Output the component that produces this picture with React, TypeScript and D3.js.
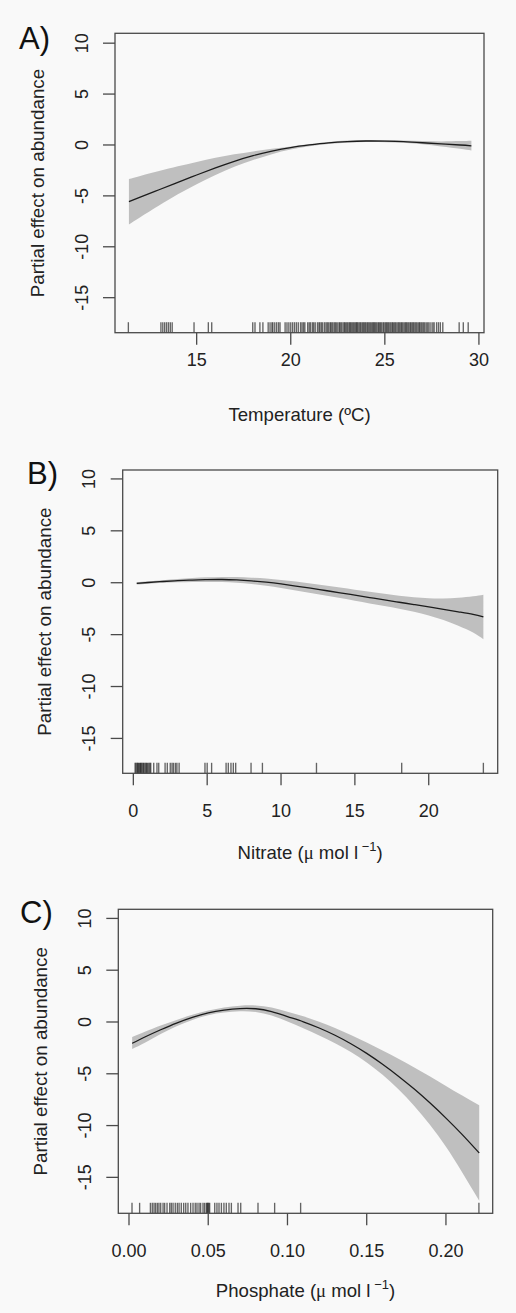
import React from "react";
import * as d3 from "d3";

// ---------- Panel A: Temperature ----------
const tempX = [11.4, 12, 13, 14, 15, 16, 17, 18, 19, 20, 21, 22, 23, 24, 25, 26, 27, 28, 29, 29.6];
const tempFit = [-5.57, -5.13, -4.4, -3.67, -2.95, -2.25, -1.6, -1.05, -0.6, -0.25, 0.0, 0.2, 0.33, 0.39, 0.38, 0.33, 0.22, 0.1, 0.0, -0.08];
const tempUpper = [-3.35, -3.05, -2.56, -2.1, -1.66, -1.26, -0.92, -0.63, -0.38, -0.14, 0.1, 0.3, 0.43, 0.49, 0.48, 0.45, 0.39, 0.35, 0.38, 0.42];
const tempLower = [-7.8, -7.1, -5.95, -4.85, -3.85, -2.95, -2.15, -1.47, -0.9, -0.45, -0.13, 0.1, 0.23, 0.29, 0.28, 0.21, 0.06, -0.14, -0.38, -0.55];
const tempRug = [
  11.37, 13.1, 13.2, 13.3, 13.4, 13.5, 13.6, 13.7, 14.86, 15.62, 15.8,
  17.98, 18.1, 18.36, 18.52, 18.8, 18.9, 19.0, 19.05, 19.15, 19.25, 19.35, 19.43,
  19.7, 19.8, 19.9, 20.0, 20.1, 20.2, 20.3, 20.4,
  20.52, 20.6, 20.68, 20.75, 20.9, 20.98, 21.05, 21.15, 21.22, 21.3, 21.42, 21.5, 21.55, 21.63, 21.7, 21.8, 21.88, 21.95,
  22.02, 22.1, 22.15, 22.22, 22.3, 22.36, 22.42, 22.5, 22.58, 22.63, 22.7, 22.78, 22.85, 22.9, 22.97,
  23.03, 23.1, 23.15, 23.2, 23.26, 23.32, 23.38, 23.45, 23.5, 23.55, 23.62, 23.68, 23.73, 23.8, 23.86, 23.92, 23.98,
  24.05, 24.1, 24.16, 24.22, 24.28, 24.35, 24.4, 24.46, 24.52, 24.58, 24.65, 24.7, 24.76, 24.82, 24.9, 24.95,
  25.02, 25.08, 25.14, 25.2, 25.27, 25.33, 25.4, 25.45, 25.52, 25.58, 25.65, 25.72, 25.78, 25.85, 25.9, 25.96,
  26.03, 26.1, 26.15, 26.22, 26.28, 26.35, 26.4, 26.47, 26.53, 26.6, 26.66, 26.72, 26.8, 26.85, 26.92, 26.98,
  27.05, 27.12, 27.2, 27.28, 27.35, 27.45, 27.55, 27.62, 27.75, 27.85, 27.95, 28.08, 28.95, 29.17, 29.43,
];
const tempTicks = [15, 20, 25, 30];

// ---------- Panel B: Nitrate ----------
const nitX = [0.23, 1, 2, 3, 4, 5, 6, 7, 8, 9, 10, 11, 12, 13, 14, 15, 16, 17, 18, 19, 20, 21, 22, 23, 23.7];
const nitFit = [-0.06, 0.02, 0.12, 0.2, 0.26, 0.3, 0.31, 0.27, 0.18, 0.05, -0.12, -0.32, -0.53, -0.75, -0.97, -1.2, -1.43, -1.66, -1.88, -2.1, -2.33, -2.56, -2.8, -3.05, -3.3];
const nitUpper = [0.06, 0.14, 0.25, 0.36, 0.45, 0.52, 0.56, 0.55, 0.49, 0.4, 0.27, 0.11, -0.07, -0.26, -0.46, -0.67, -0.87, -1.07, -1.25, -1.4, -1.5, -1.52, -1.45, -1.3, -1.15];
const nitLower = [-0.18, -0.1, -0.01, 0.04, 0.07, 0.08, 0.06, -0.01, -0.13, -0.3, -0.51, -0.75, -0.99, -1.24, -1.48, -1.73, -1.99, -2.25, -2.51, -2.8, -3.16, -3.6, -4.15, -4.8, -5.45];
const nitRug = [
  0.12, 0.18, 0.25, 0.3, 0.35, 0.42, 0.48, 0.52, 0.58, 0.65, 0.7, 0.78, 0.85, 0.9, 0.97, 1.05, 1.12, 1.18,
  1.38, 1.6, 1.72, 2.15, 2.3, 2.5, 2.62, 2.72, 2.85, 2.95, 3.1, 4.85, 5.0, 5.3,
  6.28, 6.43, 6.61, 6.77, 6.93, 7.97, 8.74, 12.4, 18.17, 23.7,
];
const nitTicks = [0, 5, 10, 15, 20];

// ---------- Panel C: Phosphate ----------
const phoX = [0.002, 0.01, 0.02, 0.03, 0.04, 0.05, 0.06, 0.07, 0.08, 0.09, 0.1, 0.11, 0.12, 0.13, 0.14, 0.15, 0.16, 0.17, 0.18, 0.19, 0.2, 0.21, 0.221];
const phoFit = [-2.06, -1.45, -0.75, -0.1, 0.45, 0.88, 1.15, 1.3, 1.28, 1.0, 0.52, 0.02, -0.58, -1.28, -2.1, -3.03, -4.08, -5.23, -6.48, -7.83, -9.28, -10.83, -12.65];
const phoUpper = [-1.45, -0.95, -0.35, 0.2, 0.7, 1.1, 1.4, 1.58, 1.6, 1.4, 1.0, 0.55, 0.02, -0.58, -1.25, -1.98, -2.75, -3.55, -4.4, -5.27, -6.17, -7.08, -8.05];
const phoLower = [-2.6, -2.0, -1.15, -0.4, 0.2, 0.66, 0.92, 1.03, 0.96, 0.62, 0.05, -0.6, -1.3, -2.05, -2.9, -3.9, -5.1, -6.5, -8.1, -9.95, -12.05, -14.45, -17.26];
const phoRug = [
  0.0019, 0.0067, 0.0135, 0.0147, 0.0158, 0.0168, 0.0179, 0.0189, 0.02, 0.0215, 0.0225, 0.024, 0.0257, 0.0267,
  0.0278, 0.0292, 0.0305, 0.0316, 0.033, 0.0345, 0.0358, 0.0372, 0.0389, 0.0404, 0.0418, 0.0429, 0.0442,
  0.0452, 0.0467, 0.0477, 0.0488, 0.0494, 0.0498, 0.0503, 0.0509, 0.0541, 0.0555, 0.0568, 0.0583, 0.0599,
  0.0614, 0.0631, 0.0646, 0.0688, 0.0705, 0.0814, 0.0919, 0.1083, 0.2208,
];
const phoTicks = [0, 0.05, 0.1, 0.15, 0.2];

const yTicks = [10, 5, 0, -5, -10, -15];

type Panel = {
  letter: string;
  box: [number, number, number, number]; // left, top, right, bottom
  xDomain: [number, number];
  yDomain: [number, number];
  xs: number[];
  fit: number[];
  upper: number[];
  lower: number[];
  rug: number[];
  xTicks: number[];
  fmt: (v: number) => string;
  tickLabelDy: number;
  xLabelDy: number;
  letterPos: [number, number];
  xlabel: "temp" | "nit" | "pho";
};

const panels: Panel[] = [
  {
    letter: "A)", box: [115, 33.3, 484, 332.7], xDomain: [10.66, 30.27], yDomain: [-18.44, 10.97],
    xs: tempX, fit: tempFit, upper: tempUpper, lower: tempLower, rug: tempRug, xTicks: tempTicks,
    fmt: (v) => String(v), tickLabelDy: 33.5, xLabelDy: 88, letterPos: [19, 48.5], xlabel: "temp",
  },
  {
    letter: "B)", box: [122.7, 470, 497.7, 773.3], xDomain: [-0.72, 24.67], yDomain: [-18.36, 10.86],
    xs: nitX, fit: nitFit, upper: nitUpper, lower: nitLower, rug: nitRug, xTicks: nitTicks,
    fmt: (v) => String(v), tickLabelDy: 44, xLabelDy: 86, letterPos: [27, 483.5], xlabel: "nit",
  },
  {
    letter: "C)", box: [118.3, 909.3, 492.7, 1213.3], xDomain: [-0.00675, 0.2295], yDomain: [-18.47, 10.88],
    xs: phoX, fit: phoFit, upper: phoUpper, lower: phoLower, rug: phoRug, xTicks: phoTicks,
    fmt: (v) => v.toFixed(2), tickLabelDy: 43.5, xLabelDy: 84, letterPos: [20, 923], xlabel: "pho",
  },
];

const FONT = "'Liberation Sans', Arial, Helvetica, sans-serif";
const AXIS = "#4a4a4a";

function XLabel({ kind, x, y }: { kind: string; x: number; y: number }) {
  if (kind === "temp") {
    return (
      <text x={x} y={y} textAnchor="middle" fontSize={18.6} fill="#222" fontFamily={FONT}>
        Temperature (ºC)
      </text>
    );
  }
  const name = kind === "nit" ? "Nitrate" : "Phosphate";
  return (
    <text x={x} y={y} textAnchor="middle" fontSize={18.6} fill="#222" fontFamily={FONT}>
      {name} (<tspan fontFamily="'Liberation Serif', serif">μ</tspan> mol  l
      <tspan dy={-8} fontSize={13}> −1</tspan>
      <tspan dy={8}>)</tspan>
    </text>
  );
}

function PanelView({ p }: { p: Panel }) {
  const [L, T, R, B] = p.box;
  const x = d3.scaleLinear().domain(p.xDomain).range([L, R]);
  const y = d3.scaleLinear().domain(p.yDomain).range([B, T]);
  const rows = p.xs.map((v, i) => ({ x: v, f: p.fit[i], u: p.upper[i], l: p.lower[i] }));
  const area = d3
    .area<any>()
    .x((d) => x(d.x))
    .y0((d) => y(d.l))
    .y1((d) => y(d.u))
    .curve(d3.curveNatural)(rows) as string;
  const line = d3
    .line<any>()
    .x((d) => x(d.x))
    .y((d) => y(d.f))
    .curve(d3.curveNatural)(rows) as string;
  const cx = (L + R) / 2;
  const cy = (T + B) / 2;
  return (
    <g>
      <path d={area} fill="#bfbfbf" stroke="none" />
      <path d={line} fill="none" stroke="#1c1c1c" strokeWidth={1.3} />
      {p.rug.map((v, i) => (
        <line key={i} x1={x(v)} x2={x(v)} y1={B} y2={B - 10.5} stroke="#000" strokeOpacity={0.6} strokeWidth={1.35} />
      ))}
      <rect x={L} y={T} width={R - L} height={B - T} fill="none" stroke={AXIS} strokeWidth={1.3} />
      {p.xTicks.map((t) => (
        <g key={t}>
          <line x1={x(t)} x2={x(t)} y1={B} y2={B + 12} stroke={AXIS} strokeWidth={1.3} />
          <text x={x(t)} y={B + p.tickLabelDy} textAnchor="middle" fontSize={18} fill="#222" fontFamily={FONT}>
            {p.fmt(t)}
          </text>
        </g>
      ))}
      {yTicks.map((t) => (
        <g key={t}>
          <line x1={L - 12} x2={L} y1={y(t)} y2={y(t)} stroke={AXIS} strokeWidth={1.3} />
          <text
            transform={`translate(${L - 27.5},${y(t)}) rotate(-90)`}
            textAnchor="middle"
            fontSize={18}
            fill="#222"
            fontFamily={FONT}
          >
            {t}
          </text>
        </g>
      ))}
      <text
        transform={`translate(${L - 71.5},${cy}) rotate(-90)`}
        textAnchor="middle"
        fontSize={18.8}
        fill="#222"
        fontFamily={FONT}
      >
        Partial effect on abundance
      </text>
      <XLabel kind={p.xlabel} x={cx} y={B + p.xLabelDy} />
      <text x={p.letterPos[0]} y={p.letterPos[1]} fontSize={31} fill="#111" fontFamily={FONT}>
        {p.letter}
      </text>
    </g>
  );
}

export default function App() {
  return (
    <svg
      width={516}
      height={1313}
      style={{ position: "absolute", left: 0, top: 0, display: "block" }}
    >
      <rect x={0} y={0} width={516} height={1313} fill="#f9f9f9" />
      {panels.map((p) => (
        <PanelView key={p.letter} p={p} />
      ))}
    </svg>
  );
}
